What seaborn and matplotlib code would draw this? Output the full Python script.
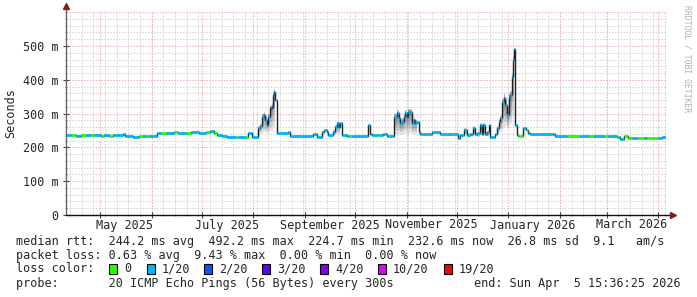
import numpy as np
import pandas as pd
import matplotlib
matplotlib.use("Agg")
import matplotlib.pyplot as plt
import matplotlib.dates as mdates
import matplotlib.transforms as mtransforms
from matplotlib.patches import Rectangle
import seaborn as sns

# ---------------- data ----------------
END = pd.Timestamp("2026-04-05 15:36:25")
SPAN_DAYS = 360

# day offset from graph start, median rtt (ms), loss level index
day = [0.0, 3.0, 6.0, 9.0, 12.0, 15.0, 17.0, 21.0, 23.0, 26.0, 28.0, 32.0, 34.0, 35.5,
       40.0, 44.0, 46.0, 48.0, 50.0, 54.5, 57.0, 60.0, 65.0, 67.0, 72.0, 75.0, 80.0, 84.0,
       86.5, 88.5, 90.5, 93.5, 96.5, 98.0, 102.0, 103.0, 108.0, 109.0, 111.5,
       115.0, 116.4, 117.6, 118.5, 119.4, 120.4, 121.2, 122.4, 123.4, 124.4, 125.0, 125.6,
       126.3, 133.0, 134.4, 148.0, 150.5, 153.5, 154.5, 156.5, 157.2, 160.2, 161.4, 162.6,
       163.5, 164.4, 165.6, 168.6, 170.0, 171.5, 181.0, 182.4, 183.6, 187.0, 188.5, 190.2,
       192.6, 196.8, 198.6, 199.5, 200.4, 201.6, 202.5, 203.4, 204.6, 205.2, 206.4, 207.6,
       208.5, 209.4, 210.6, 211.5, 212.4, 217.2, 219.6, 222.6, 224.4, 235.2, 236.4, 238.8,
       240.6, 242.4, 244.2, 245.4, 246.6, 248.4, 249.3, 250.2, 251.4, 252.6, 253.5, 254.4,
       255.6, 257.4, 258.6, 259.5, 260.4, 261.6, 262.5, 263.4, 264.6, 265.5, 266.4, 267.6,
       268.2, 268.8, 269.4, 270.6, 271.2, 274.2, 275.7, 277.2, 278.4, 284.4, 293.4, 300.6,
       308.4, 314.0, 316.0, 323.4, 325.0, 330.6, 331.5, 332.4, 335.0, 337.0, 339.6, 343.0,
       347.0, 348.5, 355.0, 357.6]
rtt_ms = [236, 238, 235, 237, 236, 236, 237, 234, 236, 235, 236, 236, 240, 233,
          232, 234, 233, 234, 233, 242, 244, 244, 245, 244, 244, 245, 244, 245,
          249, 243, 236, 233, 230, 232, 232, 231, 232, 242, 232,
          256, 262, 291, 296, 281, 266, 291, 316, 320, 355, 365, 340,
          244, 246, 235, 241, 232, 246, 251, 246, 237, 246, 261, 271,
          261, 271, 238, 234, 234, 234, 266, 240, 236, 236, 236, 240,
          234, 291, 301, 286, 271, 276, 291, 301, 291, 306, 306, 271,
          281, 271, 276, 246, 239, 241, 246, 245, 239, 229, 236, 251,
          236, 240, 256, 240, 243, 266, 240, 266, 240, 245, 266, 232,
          230, 240, 256, 276, 286, 335, 345, 325, 296, 350, 355, 409,
          460, 492, 266, 237, 234, 256, 251, 244, 240, 239, 234, 234,
          234, 234, 234, 234, 233, 232, 232, 226, 234, 227, 227, 227,
          227, 227, 227, 232]
loss = [1, 0, 1, 0, 1, 0, 1, 0, 1, 0, 1, 1, 1, 1,
        1, 0, 1, 0, 1, 1, 0, 1, 0, 1, 0, 1, 1, 0,
        1, 0, 1, 1, 1, 1, 0, 1, 0, 1, 1,
        1, 1, 1, 1, 1, 1, 1, 2, 2, 1, 1, 1,
        1, 1, 1, 1, 1, 1, 1, 1, 1, 1, 1, 1,
        1, 1, 1, 1, 0, 1, 1, 1, 1, 0, 1, 1,
        1, 1, 1, 1, 1, 1, 1, 1, 1, 1, 1, 1,
        1, 1, 1, 1, 1, 1, 1, 1, 1, 1, 1, 1,
        1, 1, 1, 1, 1, 1, 1, 1, 1, 1, 1, 1,
        1, 1, 1, 1, 1, 1, 1, 1, 1, 1, 1, 1,
        1, 1, 1, 1, 0, 1, 0, 1, 1, 1, 1, 0,
        1, 0, 1, 0, 1, 0, 1, 1, 0, 0, 1, 0,
        1, 0, 1, 1]

# smoke (ping spread) episodes, NaN = no smoke
smoke_day = [115.0, 116.4, 117.6, 118.5, 119.4, 120.4, 121.2, 122.4, 123.4, 124.4, 125.0, 125.6, 126.3,
             160.2, 161.4, 162.6, 163.5, 164.4, 165.6,
             181.0, 182.4,
             196.8, 198.6, 199.5, 200.4, 201.6, 202.5, 203.4, 204.6, 205.2, 206.4, 207.6, 208.5,
             209.4, 210.6, 211.5,
             238.8, 240.6, 244.2, 245.4, 248.4, 249.3, 250.2, 251.4, 253.5, 254.4, 258.6, 259.5,
             260.4, 261.6, 262.5, 263.4, 264.6, 265.5, 266.4, 267.6, 268.2, 268.8, 269.4]
smoke_lo = [238, 240, 242, 245, 245, 242, 245, 248, 250, 255, 260, 255, np.nan,
            238, 240, 240, 240, 240, np.nan,
            238, np.nan,
            240, 240, 240, 238, 240, 240, 242, 242, 242, 242, 240, 240,
            240, 240, np.nan,
            236, 232, 236, 232, 236, 232, 236, 234, 236, np.nan, 238, 240,
            245, 255, 260, 262, 258, 262, 268, 285, 300, 320, np.nan]
smoke_hi = [264, 272, 302, 306, 296, 285, 300, 326, 332, 366, 374, 352, np.nan,
            252, 266, 276, 268, 276, np.nan,
            272, np.nan,
            302, 312, 300, 286, 290, 302, 312, 302, 314, 314, 286, 292,
            284, 286, np.nan,
            258, 242, 262, 244, 272, 246, 272, 246, 272, np.nan, 262, 284,
            296, 346, 362, 346, 322, 362, 368, 420, 472, 512, np.nan]

loss_labels = ["0", "1/20", "2/20", "3/20", "4/20", "10/20", "19/20"]
loss_colors = ["#26ff00", "#00b8ff", "#0059ff", "#5e00ff", "#7e00ff", "#dd00ff", "#ff0000"]

ytick_vals = [0, 100, 200, 300, 400, 500]
ytick_labels = ["0", "100 m", "200 m", "300 m", "400 m", "500 m"]
month_labels = ["May 2025", "July 2025", "September 2025", "November 2025",
                "January 2026", "March 2026"]
month_label_starts = ["2025-05-01", "2025-07-01", "2025-09-01", "2025-11-01",
                      "2026-01-01", "2026-03-01"]

line_rtt = "median rtt:  244.2 ms avg  492.2 ms max  224.7 ms min  232.6 ms now  26.8 ms sd  9.1   am/s"
line_loss = "packet loss: 0.63 % avg  9.43 % max  0.00 % min  0.00 % now"
line_probe = "probe:       20 ICMP Echo Pings (56 Bytes) every 300s"
line_end = "end: Sun Apr  5 15:36:25 2026"

# ---------------- figure ----------------
sns.set_style("white")
plt.rcParams["font.family"] = ["DejaVu Sans Mono", "DejaVu Sans"]
FS = 8.5
W, H = 697, 297
fig = plt.figure(figsize=(W / 100, H / 100), dpi=100)
fig.patch.set_facecolor("white")
ax = fig.add_axes([66 / W, (H - 215) / H, 600 / W, 202.8 / H])
ax.set_facecolor("white")

start = END - pd.Timedelta(days=SPAN_DAYS)
t = start + pd.to_timedelta(day, unit="D")
df = pd.DataFrame({"time": t, "rtt": rtt_ms, "loss": loss})
seg_end = list(t[1:]) + [END]
df_line = pd.concat([df, pd.DataFrame({"time": [END], "rtt": [rtt_ms[-1]], "loss": [loss[-1]]})],
                    ignore_index=True)

# grid
GRID_C = "#d2d2d2"
MGRID_C = "#ebb5b5"
for v in range(0, 601, 20):
    if v % 100 != 0:
        ax.axhline(v, color=GRID_C, lw=0.75, ls=(0, (1.4, 1.4)), zorder=0)
for v in range(100, 601, 100):
    ax.axhline(v, color=MGRID_C, lw=0.75, ls=(0, (1.4, 1.4)), zorder=0.5)
sundays = pd.date_range(start.normalize(), END, freq="W-SUN")
months = pd.date_range("2025-05-01", END, freq="MS")
for d in sundays:
    ax.axvline(d, color=GRID_C, lw=0.75, ls=(0, (1.4, 1.4)), zorder=0)
for d in months:
    ax.axvline(d, color=MGRID_C, lw=0.75, ls=(0, (1.4, 1.4)), zorder=0.5)

# smoke
st = start + pd.to_timedelta(smoke_day, unit="D")
idx = np.searchsorted(np.array(day), np.array(smoke_day), side="right") - 1
med_at = np.array(rtt_ms, dtype=float)[idx]
lo = np.array(smoke_lo, dtype=float)
hi = np.array(smoke_hi, dtype=float)
for f in [1.0, 0.8, 0.6, 0.4, 0.2]:
    ax.fill_between(st, med_at - f * (med_at - lo), med_at + f * (hi - med_at),
                    step="post", color="black", alpha=0.10, lw=0, zorder=1)

# median line
sns.lineplot(data=df_line, x="time", y="rtt", drawstyle="steps-post", color="#202020",
             lw=1.0, errorbar=None, ax=ax, zorder=2)
ax.hlines(df["rtt"], mdates.date2num(df["time"]), mdates.date2num(pd.Series(seg_end)),
          colors=[loss_colors[i] for i in loss], lw=2.0, zorder=3, capstyle="butt")

ax.set_xlim(start, END)
ax.set_ylim(0, 600)
ax.set_xlabel("")
ax.set_ylabel("")
for s in ax.spines.values():
    s.set_visible(False)

ax.set_yticks(ytick_vals, ytick_labels)
ax.set_yticks(range(0, 601, 20), minor=True)
ax.tick_params(axis="y", which="major", left=True, length=4, width=0.8, color="#444444",
               direction="inout", pad=3.5, labelsize=FS)
ax.tick_params(axis="y", which="minor", left=True, length=2, width=0.6, color="#888888",
               direction="inout")
ax.set_xticks(months)
ax.set_xticklabels([""] * len(months))
ax.set_xticks(sundays, minor=True)
ax.tick_params(axis="x", which="major", bottom=True, length=4, width=0.8, color="#444444",
               direction="inout")
ax.tick_params(axis="x", which="minor", bottom=True, length=2, width=0.6, color="#888888",
               direction="inout")

trans = mtransforms.blended_transform_factory(ax.transData, ax.transAxes)
for lab, ms in zip(month_labels, month_label_starts):
    ax.text(pd.Timestamp(ms) + pd.Timedelta(days=15), -10 / 202.8, lab, transform=trans,
            ha="center", va="center", fontsize=FS)

# axes lines with arrows
ax.plot([0, 0], [0, 1.0 + 6 / 202.8], transform=ax.transAxes, color="#666666", lw=1.0,
        clip_on=False, zorder=5)
ax.plot([0, 1.0 + 4 / 600], [0, 0], transform=ax.transAxes, color="#111111", lw=1.0,
        clip_on=False, zorder=5)
ax.plot([0], [1.0 + 6 / 202.8], marker="^", ms=5, color="#7f1f1f", transform=ax.transAxes,
        clip_on=False, zorder=6)
ax.plot([1.0 + 7 / 600], [0], marker=">", ms=5, color="#7f1f1f", transform=ax.transAxes,
        clip_on=False, zorder=6)

def fx(px):
    return px / W

def fy(py):
    return 1 - py / H

fig.text(fx(11), fy(113), "Seconds", rotation=90, ha="center", va="center", fontsize=FS)
fig.text(fx(687), fy(5), "RRDTOOL / TOBI OETIKER", rotation=270, ha="center", va="top",
         fontsize=5.8, color="#b0b0b0")

fig.text(fx(16), fy(241), line_rtt, ha="left", va="center", fontsize=FS)
fig.text(fx(16), fy(255), line_loss, ha="left", va="center", fontsize=FS)
fig.text(fx(16), fy(269), "loss color:", ha="left", va="center", fontsize=FS)
box_x = [109, 147, 204, 262, 320, 378, 444]
for bx, lab, col in zip(box_x, loss_labels, loss_colors):
    fig.add_artist(Rectangle((fx(bx), fy(274)), 8 / W, 10 / H, transform=fig.transFigure,
                             facecolor=col, edgecolor="black", lw=0.8))
    fig.text(fx(bx + 15), fy(269), lab, ha="left", va="center", fontsize=FS)
fig.text(fx(16), fy(283), line_probe, ha="left", va="center", fontsize=FS)
fig.text(fx(681), fy(283), line_end, ha="right", va="center", fontsize=FS)

fig.savefig("out.png", dpi=100, facecolor="white")
